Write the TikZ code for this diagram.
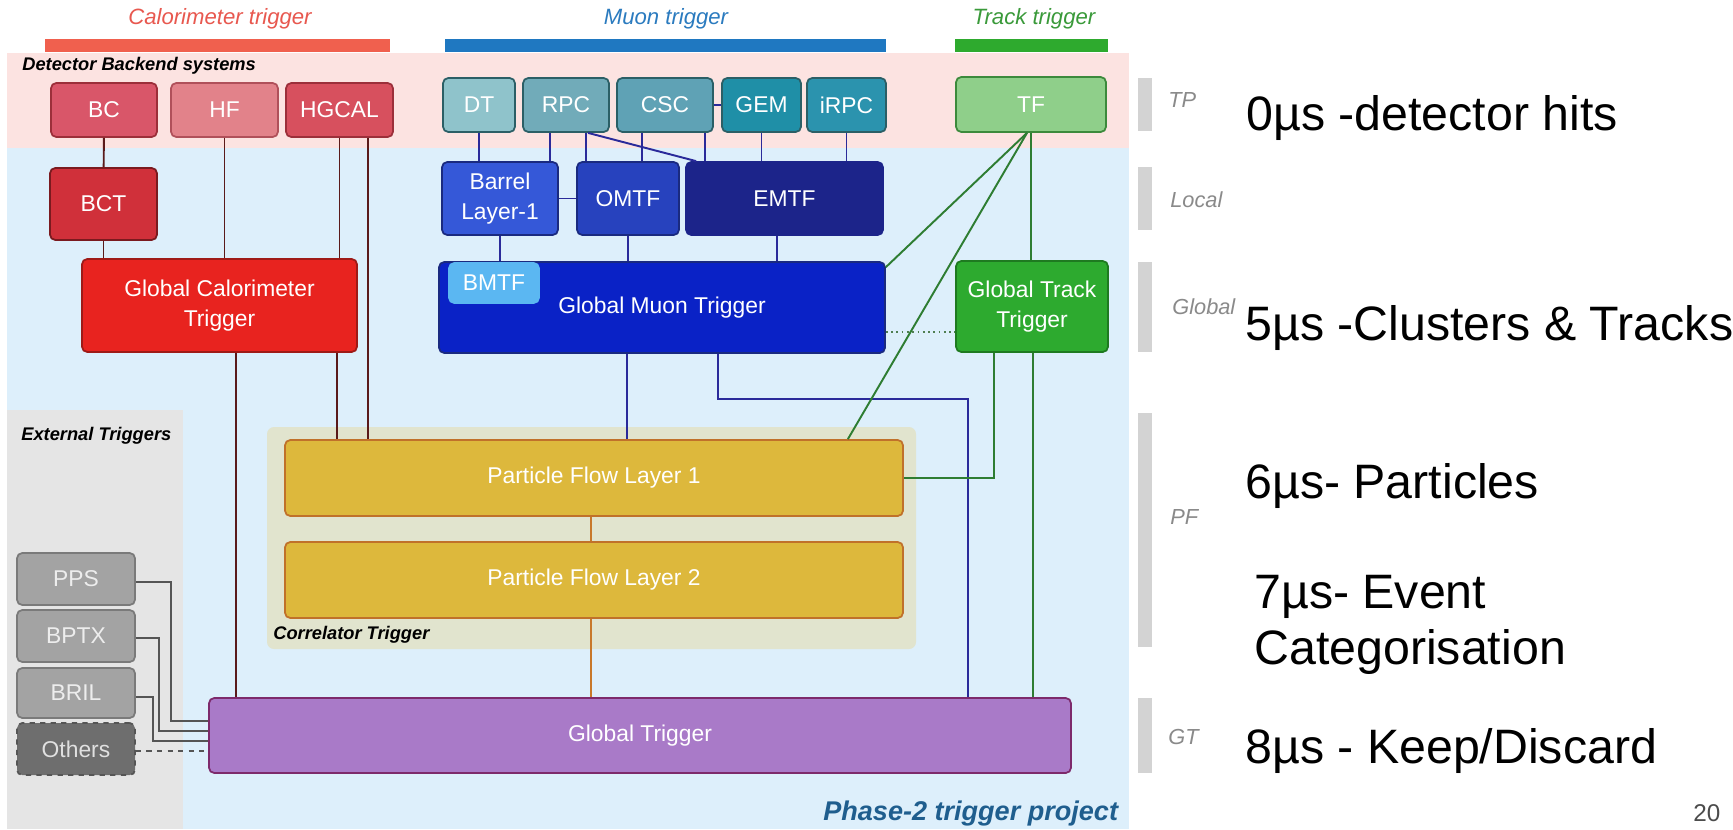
\documentclass[tikz,border=0pt]{standalone}
\usepackage{fontspec}
\setmainfont{Liberation Sans}
\usetikzlibrary{calc}
\definecolor{pinkbg}{HTML}{FCE3E1}
\definecolor{bluebg}{HTML}{DDEFFB}
\definecolor{extbg}{HTML}{E5E5E5}
\definecolor{corrbg}{HTML}{E1E4CE}
\definecolor{calbar}{HTML}{F0604E}
\definecolor{mubar}{HTML}{1F78C1}
\definecolor{trbar}{HTML}{2EAA2E}
\definecolor{caltxt}{HTML}{E8584F}
\definecolor{mutxt}{HTML}{2B7BBF}
\definecolor{trtxt}{HTML}{3A9A3A}
\definecolor{cBC}{HTML}{D95669}\definecolor{cBCd}{HTML}{9C2F3A}
\definecolor{cHF}{HTML}{E2828A}\definecolor{cHFd}{HTML}{B0505A}
\definecolor{cHG}{HTML}{D7505E}\definecolor{cHGd}{HTML}{9C2F3A}
\definecolor{cBCT}{HTML}{D0303A}\definecolor{cBCTd}{HTML}{7A1A1F}
\definecolor{cGCT}{HTML}{E8231F}\definecolor{cGCTd}{HTML}{9E1A17}
\definecolor{cDT}{HTML}{8FC3CB}\definecolor{cRPC}{HTML}{71ABB9}
\definecolor{cCSC}{HTML}{5FA2B5}\definecolor{cGEM}{HTML}{1F8FA7}
\definecolor{ciRPC}{HTML}{2B93AE}\definecolor{cMUd}{HTML}{2B5F66}
\definecolor{cTF}{HTML}{8FCF8A}\definecolor{cTFd}{HTML}{3C8A3C}
\definecolor{cGTT}{HTML}{2DAA2F}\definecolor{cGTTd}{HTML}{1E7A20}
\definecolor{cBL}{HTML}{3558D8}\definecolor{cOM}{HTML}{2742BE}
\definecolor{cEM}{HTML}{1C248A}\definecolor{cGMT}{HTML}{0A22C6}
\definecolor{cBMTF}{HTML}{5BB7F2}\definecolor{cMBd}{HTML}{1A2A80}
\definecolor{cPF}{HTML}{DDB83C}\definecolor{cPFd}{HTML}{C0712A}
\definecolor{cGT}{HTML}{A97AC8}\definecolor{cGTd}{HTML}{7D2A6B}
\definecolor{cEX}{HTML}{A3A3A3}\definecolor{cEXd}{HTML}{7A7A7A}
\definecolor{cOT}{HTML}{6E6E6E}\definecolor{cOTd}{HTML}{555555}
\definecolor{calline}{HTML}{5A1A1A}
\definecolor{muline}{HTML}{2A2A9A}
\definecolor{grline}{HTML}{2E7D32}
\definecolor{extline}{HTML}{555555}
\definecolor{pfline}{HTML}{C8782A}
\definecolor{tlgray}{HTML}{D3D3D3}
\definecolor{tltxt}{HTML}{8A8A8A}
\definecolor{phase}{HTML}{1F5E8E}
\newcommand\boxfont{\fontsize{13}{17}\selectfont}
\newcommand\hdrfont{\fontsize{12.6}{15}\selectfont\itshape}
\newcommand\secfont{\fontsize{10.4}{13}\selectfont\bfseries\itshape}
\newcommand\tlfont{\fontsize{12.4}{14}\selectfont\itshape}
\newcommand\bigtxt{\fontsize{27.5}{31}\selectfont}
\begin{document}
\begin{tikzpicture}[x=0.02cm,y=-0.02cm,
  bx/.style n args={4}{draw=#2, fill=#1, rounded corners=3pt, line width=1pt,
    minimum width=#3*0.02cm, minimum height=#4*0.02cm, inner sep=0pt,
    text=white, font=\boxfont, align=center},
  cal/.style={draw=calline, line width=1.1pt},
  mu/.style={draw=muline, line width=1.1pt},
  grn/.style={draw=grline, line width=1.1pt},
  ext/.style={draw=extline, line width=1.1pt},
  pfl/.style={draw=pfline, line width=1.1pt},
  tl/.style={fill=tlgray, draw=none},
  tltext/.style={anchor=west, text=tltxt, font=\tlfont, inner sep=0pt},
  big/.style={anchor=base west, font=\bigtxt, inner sep=0pt},
  sec/.style={anchor=west, font=\secfont, inner sep=0pt}]
\useasboundingbox (0,0) rectangle (1733,829);
\fill[white] (0,0) rectangle (1733,829);
% backgrounds
\fill[pinkbg] (7,53) rectangle (1129,148);
\fill[bluebg] (7,148) rectangle (1129,829);
\fill[extbg] (7,410) rectangle (183,829);
\fill[corrbg, rounded corners=4pt] (267,427) rectangle (916,649);
% header bars
\fill[calbar] (45,39) rectangle (390,52);
\fill[mubar] (445,39) rectangle (886,52);
\fill[trbar] (955,39) rectangle (1108,52);
\node[font=\hdrfont, text=caltxt] (hcal) at (220,19) {Calorimeter trigger};
\node[font=\hdrfont, text=mutxt] (hmu) at (666,19) {Muon trigger};
\node[font=\hdrfont, text=trtxt] (htr) at (1034,19) {Track trigger};
% section labels
\node[sec] (sdet) at (22,66) {Detector Backend systems};
\node[sec] (sext) at (21,436) {External Triggers};
\node[sec] (scor) at (273,635) {Correlator Trigger};
\node[anchor=west, inner sep=0pt, font=\fontsize{15.4}{18}\selectfont\bfseries\itshape, text=phase] (sph) at (823,813) {Phase-2 trigger project};
% calorimeter boxes
\node[bx={cBC}{cBCd}{106}{54}] (BC) at (104,110) {BC};
\node[bx={cHF}{cHFd}{107}{54}] (HF) at (224.5,110) {HF};
\node[bx={cHG}{cHGd}{107}{54}] (HGCAL) at (339.5,110) {HGCAL};
\node[bx={cBCT}{cBCTd}{107}{72}] (BCT) at (103.5,204) {BCT};
\node[bx={cGCT}{cGCTd}{275}{93}] (GCT) at (219.5,305.5) {Global Calorimeter\\Trigger};
% muon boxes
\node[bx={cDT}{cMUd}{72}{54}] (DT) at (479,105) {DT};
\node[bx={cRPC}{cMUd}{86}{54}] (RPC) at (566,105) {RPC};
\node[bx={cCSC}{cMUd}{96}{54}] (CSC) at (665,105) {CSC};
\node[bx={cGEM}{cMUd}{79}{54}] (GEM) at (761.5,105) {GEM};
\node[bx={ciRPC}{cMUd}{79}{54}] (iRPC) at (846.5,105) {iRPC};
\node[bx={cBL}{cMBd}{116}{73}] (BL1) at (500,198.5) {Barrel\\Layer-1};
\node[bx={cOM}{cMBd}{102}{73}] (OMTF) at (628,198.5) {OMTF};
\node[bx={cEM}{cEM}{197}{73}] (EMTF) at (784.5,198.5) {EMTF};
\node[bx={cGMT}{cMBd}{446}{91}] (GMT) at (662,307.5) {Global Muon Trigger};
\node[bx={cBMTF}{cBMTF}{90}{40}] (BMTF) at (494,283) {BMTF};
% track boxes
\node[bx={cTF}{cTFd}{150}{55}] (TF) at (1031,104.5) {TF};
\node[bx={cGTT}{cGTTd}{152}{91}] (GTT) at (1032,306.5) {Global Track\\Trigger};
% PF and GT
\node[bx={cPF}{cPFd}{618}{76}] (PFL1) at (594,478) {Particle Flow Layer 1};
\node[bx={cPF}{cPFd}{618}{76}] (PFL2) at (594,580) {Particle Flow Layer 2};
\node[bx={cGT}{cGTd}{862}{75}] (GT) at (640,735.5) {Global Trigger};
% external
\node[bx={cEX}{cEXd}{118}{52}, text=white!93!black] (PPS) at (76,579) {PPS};
\node[bx={cEX}{cEXd}{118}{52}, text=white!93!black] (BPTX) at (76,636) {BPTX};
\node[bx={cEX}{cEXd}{118}{50}, text=white!93!black] (BRIL) at (76,693) {BRIL};
\node[bx={cOT}{cOTd}{118}{52}, dashed, text=white!88!black] (Others) at (76,749) {Others};
% calorimeter connectors
\draw[cal] (BC) -- (BCT);
\draw[cal] (BCT.south) -- (BCT.south |- GCT.north);
\draw[cal] (HF.south) -- (HF.south |- GCT.north);
\draw[cal] (HGCAL.south) -- (HGCAL.south |- GCT.north);
\coordinate (hg2) at ($(HGCAL.south)+(28.5,0)$);
\draw[cal] (hg2) -- (hg2 |- PFL1.north);
\coordinate (gc1) at ($(GCT.south)+(16.5,0)$);
\draw[cal] (gc1) -- (gc1 |- GT.north);
\coordinate (gc2) at ($(GCT.south)+(117.5,0)$);
\draw[cal] (gc2) -- (gc2 |- PFL1.north);
% muon connectors
\draw[mu] (DT.south) -- (DT.south |- BL1.north);
\coordinate (rp1) at ($(RPC.south)+(-16,0)$);
\draw[mu] (rp1) -- (rp1 |- BL1.north);
\coordinate (rp2) at ($(RPC.south)+(20,0)$);
\draw[mu] (rp2) -- (rp2 |- OMTF.north);
\coordinate (rp3) at ($(RPC.south)+(22,0)$);
\coordinate (em0) at ($(EMTF.north west)+(11,0)$);
\draw[mu] (rp3) -- (em0);
\coordinate (cs1) at ($(CSC.south)+(-23,0)$);
\draw[mu] (cs1) -- (cs1 |- OMTF.north);
\coordinate (cs2) at ($(CSC.south)+(40,0)$);
\draw[mu] (cs2) -- (cs2 |- EMTF.north);
\draw[mu] (CSC.east) -- (GEM.west);
\draw[mu] (GEM.south) -- (GEM.south |- EMTF.north);
\draw[mu] (iRPC.south) -- (iRPC.south |- EMTF.north);
\draw[mu] (BL1.east) -- (OMTF.west);
\draw[mu] (BL1.south) -- (BL1.south |- GMT.north);
\draw[mu] (OMTF.south) -- (OMTF.south |- GMT.north);
\coordinate (em1) at ($(EMTF.south)+(-7.5,0)$);
\draw[mu] (em1) -- (em1 |- GMT.north);
\coordinate (gm1) at ($(GMT.south)+(-35,0)$);
\draw[mu] (gm1) -- (gm1 |- PFL1.north);
\coordinate (gm2) at ($(GMT.south)+(56,0)$);
\coordinate (mk) at (968,399);
\draw[mu] (gm2) |- (mk) -- (mk |- GT.north);
% track connectors
\draw[grn] (TF.south) -- (TF.south |- GTT.north);
\coordinate (gt1) at ($(GTT.south)+(1,0)$);
\draw[grn] (gt1) -- (gt1 |- GT.north);
\coordinate (tf0) at ($(TF.south)+(-4,0)$);
\coordinate (gmx) at ($(GMT.north east)+(0,6)$);
\draw[grn] (tf0) -- (gmx);
\coordinate (pfx) at ($(PFL1.north east)+(-56,0)$);
\draw[grn] (tf0) -- (pfx);
\coordinate (gt2) at ($(GTT.south)+(-38,0)$);
\draw[grn] (gt2) |- (PFL1.east);
\coordinate (dA) at ($(GMT.east)+(0,24.5)$);
\coordinate (dB) at ($(GTT.west)+(0,25.5)$);
\draw[draw=grline!60!gray, line width=1pt, dotted] (dA) -- (dB);
% particle flow connectors
\draw[pfl] ($(PFL1.south)+(-3,0)$) coordinate (pf1) -- (pf1 |- PFL2.north);
\draw[pfl] ($(PFL2.south)+(-3,0)$) coordinate (pf2) -- (pf2 |- GT.north);
% external connectors
\coordinate (gA) at ($(GT.west)+(0,-14.5)$);
\coordinate (gB) at ($(GT.west)+(0,-4.5)$);
\coordinate (gC) at ($(GT.west)+(0,5.5)$);
\draw[ext] ($(PPS.east)+(0,3)$) -- ++(35,0) |- (gA);
\draw[ext] ($(BPTX.east)+(0,2)$) -- ++(23,0) |- (gB);
\draw[ext] ($(BRIL.east)+(0,4)$) -- ++(17,0) |- (gC);
\draw[ext, dashed] ($(Others.east)+(0,2)$) coordinate (ot1) -- (ot1 -| GT.west);
% timeline
\fill[tl] (1138,78) rectangle (1152,131);
\fill[tl] (1138,167) rectangle (1152,230);
\fill[tl] (1138,262) rectangle (1152,352);
\fill[tl] (1138,413) rectangle (1152,647);
\fill[tl] (1138,698) rectangle (1152,773);
\node[tltext] (lTP) at (1168,100) {TP};
\node[tltext] (lLoc) at (1170,200) {Local};
\node[tltext] (lGlo) at (1172,307) {Global};
\node[tltext] (lPF) at (1170,517) {PF};
\node[tltext] (lGT) at (1168,737) {GT};
\node[big] (t0) at (1246,130) {0µs -detector hits};
\node[big] (t5) at (1245,340) {5µs -Clusters \& Tracks};
\node[big] (t6) at (1245,498) {6µs- Particles};
\node[big] (t7) at (1254,608) {7µs- Event};
\node[big] (t7b) at (1254,664) {Categorisation};
\node[big] (t8) at (1245,763) {8µs - Keep/Discard};
\node[anchor=base west, inner sep=0pt, font=\fontsize{13.8}{16}\selectfont, text=black!70] (pg) at (1693,821) {20};
\end{tikzpicture}
\end{document}
